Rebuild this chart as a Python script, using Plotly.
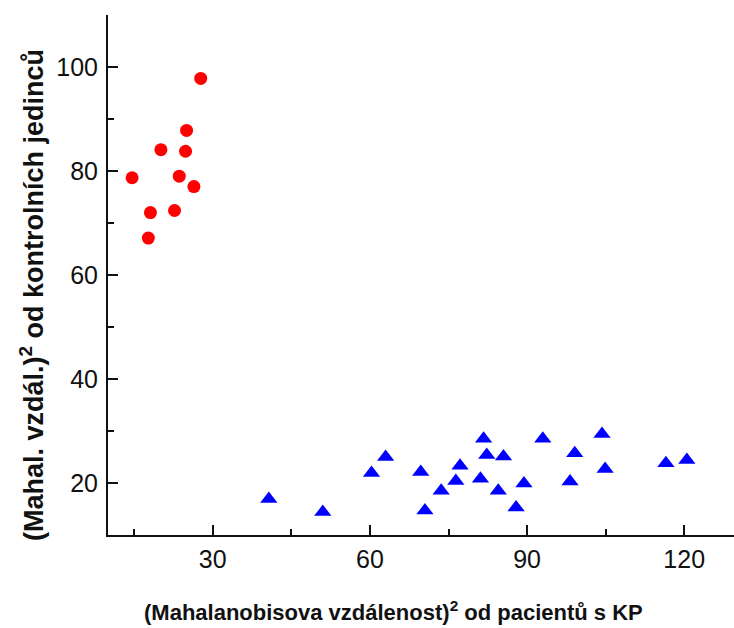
import plotly.graph_objects as go

# Control individuals: (Mahalanobis distance)^2 from KP patients vs from controls
control_x = [27.7, 25.0, 20.1, 24.8, 14.6, 23.6, 26.4, 18.1, 22.7, 17.7]
control_y = [97.8, 87.8, 84.1, 83.8, 78.7, 79.0, 77.0, 72.0, 72.4, 67.1]

# KP patients
patient_x = [40.7, 51.0, 60.3, 63.0, 69.7, 70.5, 73.6, 76.4, 77.2, 81.1, 81.7, 82.3,
             84.5, 85.5, 87.9, 89.4, 93.0, 98.2, 99.1, 104.3, 104.9, 116.5, 120.5]
patient_y = [16.9, 14.4, 21.9, 25.0, 22.1, 14.7, 18.5, 20.4, 23.3, 20.8, 28.5, 25.4,
             18.5, 25.1, 15.3, 19.9, 28.5, 20.3, 25.7, 29.4, 22.7, 23.8, 24.4]

x_title = "(Mahalanobisova vzdálenost)<sup>2</sup> od pacientů s KP"
y_title = "(Mahal. vzdál.)<sup>2</sup> od kontrolních jedinců"

W, H = 734, 628
L, R, T, B = 108, 0, 15, 93
FONT = "Arial, Liberation Sans, sans-serif"
INK = "#111111"

fig = go.Figure()
fig.add_trace(go.Scatter(
    x=control_x, y=control_y, mode="markers",
    marker=dict(symbol="circle", size=13, color="#ff0000", line=dict(width=0)),
    showlegend=False,
))
fig.add_trace(go.Scatter(
    x=patient_x, y=patient_y, mode="markers",
    marker=dict(symbol="triangle-up", size=15, color="#0000ff", line=dict(width=0)),
    showlegend=False,
))

axis_common = dict(
    showline=True, linecolor=INK, linewidth=2,
    ticks="inside", ticklen=10, tickwidth=2, tickcolor=INK,
    showgrid=False, zeroline=False,
    tickfont=dict(family=FONT, size=25, color=INK),
)

fig.update_xaxes(range=[10, 129.5], tick0=0, dtick=30, ticklabelstandoff=1,
                 minor=dict(dtick=15, ticks="inside", ticklen=6, tickwidth=2,
                            tickcolor=INK),
                 **axis_common)
fig.update_yaxes(range=[10, 110], tick0=0, dtick=20, ticklabelstandoff=3,
                 minor=dict(dtick=10, ticks="inside", ticklen=6, tickwidth=2,
                            tickcolor=INK),
                 **axis_common)

pw, ph = W - L - R, H - T - B
fig.add_annotation(
    text=x_title, xref="paper", yref="paper",
    x=(393 - L) / pw, y=(535 - 611) / ph, xanchor="center", yanchor="middle",
    showarrow=False, font=dict(family=FONT, size=22, color=INK, weight="bold"),
)
fig.add_annotation(
    text=y_title, xref="paper", yref="paper", textangle=-90,
    x=(32 - L) / pw, y=(535 - 295) / ph, xanchor="center", yanchor="middle",
    showarrow=False, font=dict(family=FONT, size=27, color=INK, weight="bold"),
)

fig.update_layout(
    width=W, height=H,
    margin=dict(l=L, r=R, t=T, b=B),
    paper_bgcolor="white", plot_bgcolor="white",
)

fig.write_html("out.html")
